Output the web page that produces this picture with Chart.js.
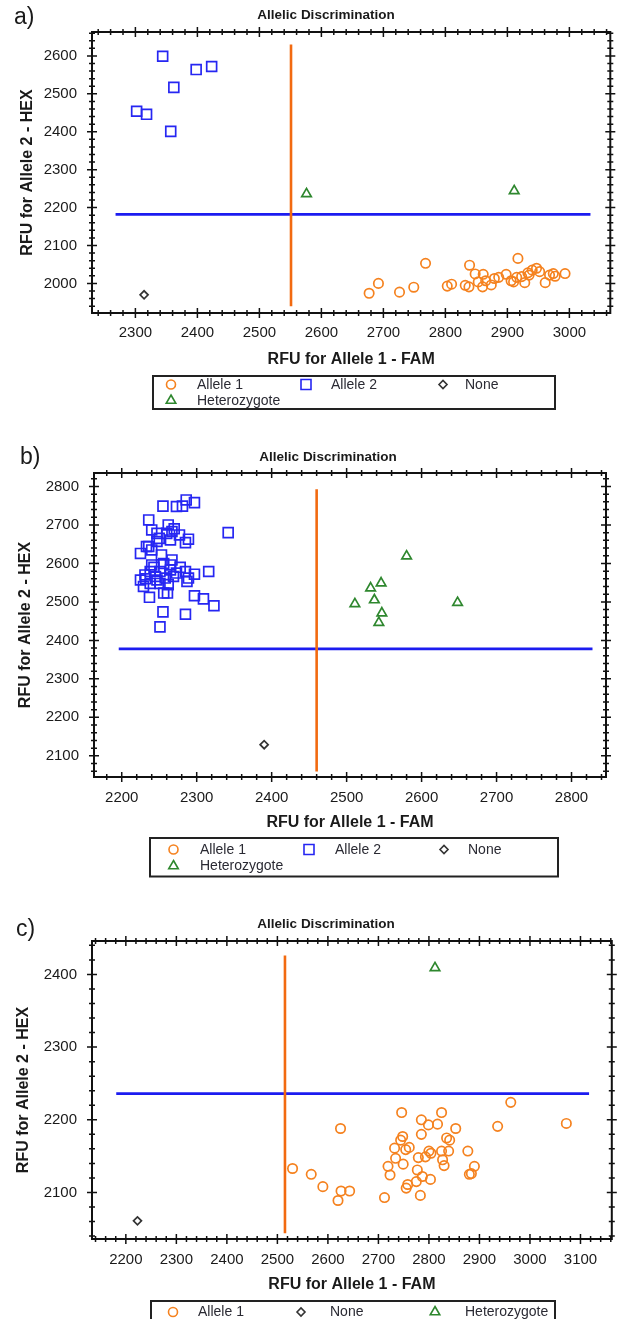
<!DOCTYPE html>
<html lang="en">
<head>
<meta charset="UTF-8">
<title>Allelic Discrimination</title>
<style>
  body { margin: 0; background: #fff; width: 619px; height: 1319px; overflow: hidden; }
  .panel { position: absolute; left: 0; }
</style>
<script src="https://cdn.jsdelivr.net/npm/chart.js"></script>
</head>
<body>
<canvas id="chartA" class="panel" width="619" height="420" style="top:0"></canvas>
<canvas id="chartB" class="panel" width="619" height="460" style="top:420px"></canvas>
<canvas id="chartC" class="panel" width="619" height="439" style="top:880px"></canvas>

<script>
  // ---- panel a data ----
  const aAllele1X = [2677, 2692, 2726, 2749, 2768, 2803, 2810, 2832, 2838, 2839, 2848, 2853, 2860, 2861, 2865, 2874, 2879, 2886, 2898, 2906, 2910, 2915, 2917, 2923, 2928, 2933, 2935, 2940, 2947, 2952, 2961, 2968, 2974, 2977, 2993];
  const aAllele1Y = [1974, 2000, 1977, 1990, 2053, 1993, 1998, 1995, 1991, 2048, 2025, 2004, 1991, 2024, 2007, 1996, 2013, 2016, 2024, 2007, 2004, 2016, 2066, 2018, 2002, 2028, 2022, 2035, 2040, 2031, 2002, 2022, 2026, 2019, 2026];
  const aAllele2X = [2344, 2398, 2423, 2362, 2302, 2318, 2357];
  const aAllele2Y = [2599, 2564, 2572, 2517, 2454, 2446, 2401];
  const aNoneX = [2314];
  const aNoneY = [1970];
  const aHetX = [2576, 2911];
  const aHetY = [2236, 2244];
  const aFamThreshold = [2551, 2551];
  const aFamSpan = [1940, 2630];
  const aHexThreshold = [2182, 2182];
  const aHexSpan = [2268, 3034];
  const aXTicks = [2300, 2400, 2500, 2600, 2700, 2800, 2900, 3000];
  const aYTicks = [2000, 2100, 2200, 2300, 2400, 2500, 2600];

  // ---- panel b data ----
  const bAllele2X = [2255, 2273, 2281, 2286, 2297, 2236, 2240, 2247, 2262, 2267, 2265, 2277, 2289, 2285, 2342, 2225, 2233, 2240, 2253, 2267, 2240, 2225, 2231, 2238, 2245, 2251, 2258, 2265, 2273, 2285, 2297, 2316, 2229, 2238, 2251, 2287, 2289, 2256, 2261, 2237, 2297, 2309, 2323, 2255, 2285, 2251, 2265, 2247, 2260, 2247, 2269, 2236, 2243, 2256, 2270, 2232, 2262, 2278, 2250];
  const bAllele2Y = [2749, 2748, 2749, 2765, 2758, 2713, 2687, 2678, 2700, 2683, 2661, 2674, 2663, 2654, 2680, 2626, 2644, 2635, 2622, 2609, 2596, 2557, 2570, 2579, 2566, 2579, 2562, 2583, 2575, 2579, 2572, 2579, 2540, 2548, 2548, 2553, 2562, 2523, 2523, 2512, 2516, 2508, 2490, 2474, 2468, 2435, 2596, 2657, 2678, 2557, 2566, 2644, 2590, 2600, 2690, 2560, 2545, 2590, 2665];
  const bNoneX = [2390];
  const bNoneY = [2129];
  const bHetX = [2580, 2511, 2532, 2546, 2537, 2547, 2543, 2648];
  const bHetY = [2619, 2495, 2536, 2549, 2505, 2471, 2446, 2498];
  const bFamThreshold = [2460, 2460];
  const bFamSpan = [2059, 2793];
  const bHexThreshold = [2378, 2378];
  const bHexSpan = [2196, 2828];
  const bXTicks = [2200, 2300, 2400, 2500, 2600, 2700, 2800];
  const bYTicks = [2100, 2200, 2300, 2400, 2500, 2600, 2700, 2800];

  // ---- panel c data ----
  const cAllele1X = [2530, 2567, 2590, 2620, 2626, 2643, 2625, 2712, 2719, 2723, 2732, 2734, 2744, 2746, 2748, 2749, 2754, 2758, 2755, 2761, 2777, 2775, 2779, 2783, 2785, 2785, 2787, 2793, 2799, 2800, 2803, 2804, 2817, 2825, 2825, 2827, 2830, 2835, 2839, 2841, 2853, 2877, 2880, 2884, 2890, 2936, 2962, 3072];
  const cAllele1Y = [2133, 2125, 2108, 2089, 2102, 2102, 2188, 2093, 2136, 2124, 2161, 2147, 2172, 2210, 2177, 2139, 2159, 2111, 2106, 2162, 2131, 2115, 2148, 2096, 2180, 2200, 2122, 2149, 2193, 2157, 2118, 2154, 2194, 2157, 2210, 2145, 2137, 2175, 2157, 2172, 2188, 2157, 2125, 2126, 2136, 2191, 2224, 2195];
  const cNoneX = [2223];
  const cNoneY = [2061];
  const cHetX = [2812];
  const cHetY = [2409];
  const cFamThreshold = [2515, 2515];
  const cFamSpan = [2044, 2426];
  const cHexThreshold = [2236, 2236];
  const cHexSpan = [2181, 3117];
  const cXTicks = [2200, 2300, 2400, 2500, 2600, 2700, 2800, 2900, 3000, 3100];
  const cYTicks = [2100, 2200, 2300, 2400];

  const chartTitle = 'Allelic Discrimination';
  const xTitle = 'RFU for Allele 1 - FAM';
  const yTitle = 'RFU for Allele 2 - HEX';

  // styles
  const ORANGE = '#f5821f', BLUE = '#2626f2', GREEN = '#2e872e', GREY = '#333333';
  const FAM_LINE = '#f26a10', HEX_LINE = '#1c1cf0';
  const INK = '#1a1a1a';
  const FONT = '"Liberation Sans", Arial, sans-serif';

  const marks = {
    'Allele 1': { style: 'circle', color: ORANGE, r: 4.7 },
    'Allele 2': { style: 'rect', color: BLUE, r: 7 },
    'None': { style: 'rectRot', color: GREY, r: 4 },
    'Heterozygote': { style: 'triangle', color: GREEN, r: 5.5 }
  };

  function pts(xs, ys) { return xs.map((x, i) => ({ x: x, y: ys[i] })); }

  function scatterSet(name, xs, ys) {
    const m = marks[name];
    return {
      label: name, data: pts(xs, ys), pointStyle: m.style, pointRadius: m.r,
      borderColor: m.color, backgroundColor: 'transparent', pointBorderWidth: 1.7, showLine: false
    };
  }

  function lineSet(xs, ys, color) {
    return {
      label: '', data: pts(xs, ys), showLine: true, pointRadius: 0,
      borderColor: color, borderWidth: 2.6, fill: false
    };
  }

  function drawMark(ctx, name, x, y) {
    const m = marks[name];
    ctx.strokeStyle = m.color;
    ctx.lineWidth = 1.6;
    ctx.beginPath();
    if (m.style === 'circle') {
      ctx.arc(x, y, 4.5, 0, Math.PI * 2);
    } else if (m.style === 'rect') {
      ctx.rect(x - 5, y - 5, 10, 10);
    } else if (m.style === 'rectRot') {
      ctx.moveTo(x - 4, y); ctx.lineTo(x, y - 4); ctx.lineTo(x + 4, y); ctx.lineTo(x, y + 4); ctx.closePath();
    } else {
      ctx.moveTo(x, y - 5.5); ctx.lineTo(x + 4.76, y + 2.75); ctx.lineTo(x - 4.76, y + 2.75); ctx.closePath();
    }
    ctx.stroke();
  }

  function decoPlugin(p) {
    return {
      id: 'deco',
      afterDraw(chart) {
        const ctx = chart.ctx, a = chart.chartArea;
        const xs = chart.scales.x, ys = chart.scales.y;
        ctx.save();
        // frame + ticks on all four sides
        ctx.strokeStyle = '#111';
        ctx.lineWidth = 2;
        ctx.strokeRect(a.left, a.top, a.right - a.left, a.bottom - a.top);
        ctx.lineWidth = 1.5;
        ctx.beginPath();
        for (let v = Math.ceil(xs.min / 20) * 20; v <= xs.max; v += 20) {
          const px = xs.getPixelForValue(v);
          const L = v % 100 === 0 ? 5 : 3;
          ctx.moveTo(px, a.bottom - L); ctx.lineTo(px, a.bottom + L);
          ctx.moveTo(px, a.top - L); ctx.lineTo(px, a.top + L);
        }
        for (let v = Math.ceil(ys.min / 20) * 20; v <= ys.max; v += 20) {
          const py = ys.getPixelForValue(v);
          const L = v % 100 === 0 ? 5 : 3;
          ctx.moveTo(a.left - L, py); ctx.lineTo(a.left + L, py);
          ctx.moveTo(a.right - L, py); ctx.lineTo(a.right + L, py);
        }
        ctx.stroke();

        // panel letter and title
        ctx.fillStyle = INK;
        ctx.textBaseline = 'middle';
        ctx.textAlign = 'left';
        ctx.font = '23px ' + FONT;
        ctx.fillText(p.letter, p.letterPos[0], p.letterPos[1]);
        ctx.textAlign = 'center';
        ctx.font = 'bold 13.5px ' + FONT;
        ctx.fillText(chartTitle, p.titlePos[0], p.titlePos[1]);

        // legend box
        const b = p.legendBox;
        ctx.lineWidth = 2;
        ctx.strokeStyle = '#222';
        ctx.strokeRect(b[0], b[1], b[2] - b[0], b[3] - b[1]);
        ctx.font = '14px ' + FONT;
        ctx.textAlign = 'left';
        p.legendItems.forEach(it => {
          drawMark(ctx, it.name, it.mx, it.y);
          ctx.fillStyle = '#2a2a33';
          ctx.fillText(it.name, it.tx, it.y + 0.5);
        });
        ctx.restore();
      }
    };
  }

  function makeChart(p) {
    const W = 619, H = p.height;
    new Chart(document.getElementById(p.id), {
      type: 'scatter',
      data: { datasets: p.datasets },
      options: {
        responsive: false,
        animation: false,
        layout: { padding: { left: 0, top: p.area.top, right: W - p.area.right, bottom: H - p.area.bottom - p.xh } },
        plugins: { legend: { display: false }, tooltip: { enabled: false } },
        scales: {
          x: {
            type: 'linear', min: p.xRange[0], max: p.xRange[1],
            afterBuildTicks: s => { s.ticks = p.xTicks.map(v => ({ value: v })); },
            afterFit: s => { s.height = p.xh; },
            grid: { display: false, drawTicks: false },
            border: { display: false },
            ticks: { padding: p.xTickPad, color: INK, font: { family: FONT, size: 15 }, maxRotation: 0, callback: v => String(v) },
            title: { display: true, text: xTitle, color: INK, font: { family: FONT, size: 16, weight: 'bold' }, padding: { top: 0, bottom: 0 } }
          },
          y: {
            type: 'linear', min: p.yRange[0], max: p.yRange[1],
            afterBuildTicks: s => { s.ticks = p.yTicks.map(v => ({ value: v })); },
            afterFit: s => { s.width = p.area.left; },
            grid: { display: false, drawTicks: false },
            border: { display: false },
            ticks: { padding: 15, color: INK, font: { family: FONT, size: 15 }, callback: v => String(v) },
            title: { display: true, text: yTitle, color: INK, font: { family: FONT, size: 16, weight: 'bold' }, padding: { top: p.yTitlePad, bottom: 0 } }
          }
        }
      },
      plugins: [decoPlugin(p)]
    });
  }

  makeChart({
    id: 'chartA', height: 420, letter: 'a)', letterPos: [14, 18], titlePos: [326, 15],
    area: { left: 92, top: 32, right: 611, bottom: 313 }, xh: 56, xTickPad: 11, yTitlePad: 18,
    xRange: [2230, 3066], yRange: [1922, 2663], xTicks: aXTicks, yTicks: aYTicks,
    datasets: [
      scatterSet('Allele 1', aAllele1X, aAllele1Y),
      scatterSet('Allele 2', aAllele2X, aAllele2Y),
      scatterSet('None', aNoneX, aNoneY),
      scatterSet('Heterozygote', aHetX, aHetY),
      lineSet(aFamThreshold, aFamSpan, FAM_LINE),
      lineSet(aHexSpan, aHexThreshold, HEX_LINE)
    ],
    legendBox: [153, 376, 555, 409],
    legendItems: [
      { name: 'Allele 1', mx: 171, tx: 197, y: 384.5 },
      { name: 'Allele 2', mx: 306, tx: 331, y: 384.5 },
      { name: 'None', mx: 443, tx: 465, y: 384.5 },
      { name: 'Heterozygote', mx: 171, tx: 197, y: 400.5 }
    ]
  });

  makeChart({
    id: 'chartB', height: 460, letter: 'b)', letterPos: [20, 38], titlePos: [328, 37],
    area: { left: 94, top: 53, right: 606, bottom: 357 }, xh: 55, xTickPad: 12, yTitlePad: 16,
    xRange: [2163, 2846], yRange: [2045, 2835], xTicks: bXTicks, yTicks: bYTicks,
    datasets: [
      scatterSet('Allele 2', bAllele2X, bAllele2Y),
      scatterSet('None', bNoneX, bNoneY),
      scatterSet('Heterozygote', bHetX, bHetY),
      lineSet(bFamThreshold, bFamSpan, FAM_LINE),
      lineSet(bHexSpan, bHexThreshold, HEX_LINE)
    ],
    legendBox: [150, 418, 558, 456.5],
    legendItems: [
      { name: 'Allele 1', mx: 173.5, tx: 200, y: 429.5 },
      { name: 'Allele 2', mx: 309, tx: 335, y: 429.5 },
      { name: 'None', mx: 444, tx: 468, y: 429.5 },
      { name: 'Heterozygote', mx: 173.5, tx: 200, y: 446 }
    ]
  });

  makeChart({
    id: 'chartC', height: 439, letter: 'c)', letterPos: [16, 50], titlePos: [326, 44],
    area: { left: 92, top: 61, right: 616, bottom: 359 }, xh: 55, xTickPad: 12, yTitlePad: 14,
    xRange: [2133, 3162], yRange: [2036, 2446], xTicks: cXTicks, yTicks: cYTicks,
    datasets: [
      scatterSet('Allele 1', cAllele1X, cAllele1Y),
      scatterSet('None', cNoneX, cNoneY),
      scatterSet('Heterozygote', cHetX, cHetY),
      lineSet(cFamThreshold, cFamSpan, FAM_LINE),
      lineSet(cHexSpan, cHexThreshold, HEX_LINE)
    ],
    legendBox: [151, 421, 555, 450],
    legendItems: [
      { name: 'Allele 1', mx: 173, tx: 198, y: 432 },
      { name: 'None', mx: 301, tx: 330, y: 432 },
      { name: 'Heterozygote', mx: 435, tx: 465, y: 432 }
    ]
  });
</script>
</body>
</html>
